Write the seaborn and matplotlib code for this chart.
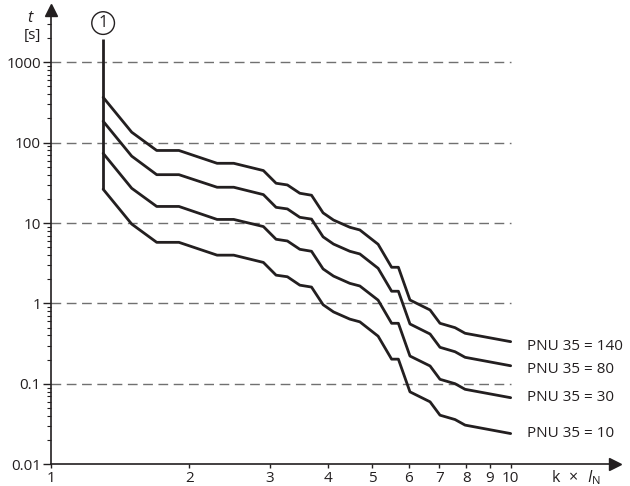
import pandas as pd
import matplotlib.pyplot as plt
import seaborn as sns

# tripping characteristic (k x I_N vs t in seconds)
k_factor = [1.3, 1.5, 1.7, 1.9, 2.3, 2.5, 2.9, 3.09, 3.27, 3.48, 3.69, 3.91,
            4.12, 4.47, 4.7, 5.15, 5.51, 5.7, 6.04, 6.68, 7.02, 7.57, 7.96, 10.0]
pnu_140 = [367, 135, 80, 80, 55.4, 55.4, 45, 31.3, 29.8, 23.5, 22.2, 13.4,
           10.9, 8.87, 8.21, 5.45, 2.82, 2.82, 1.105, 0.83, 0.567, 0.50, 0.426, 0.335]
pnu_80 = [185, 68, 40, 40, 27.9, 27.9, 22.6, 15.7, 15.0, 11.8, 11.2, 6.74,
          5.48, 4.46, 4.13, 2.74, 1.42, 1.42, 0.556, 0.417, 0.285, 0.251, 0.214, 0.168]
pnu_30 = [73.8, 27.1, 16.1, 16.1, 11.1, 11.1, 9.05, 6.29, 5.99, 4.72, 4.46, 2.69,
          2.19, 1.78, 1.65, 1.10, 0.567, 0.567, 0.222, 0.167, 0.114, 0.1005, 0.0856, 0.0673]
pnu_10 = [26.4, 9.72, 5.76, 5.76, 3.99, 3.99, 3.24, 2.25, 2.15, 1.69, 1.60, 0.965,
          0.785, 0.639, 0.591, 0.392, 0.203, 0.203, 0.0796, 0.0598, 0.0408, 0.036, 0.0307, 0.0241]
series_names = ["PNU 35 = 140", "PNU 35 = 80", "PNU 35 = 30", "PNU 35 = 10"]
marker_top = 1950  # top of the vertical line at (1)

y_ticks = [0.01, 0.1, 1, 10, 100, 1000]
y_ticklabels = ["0.01", "0.1", "1", "10", "100", "1000"]
x_ticks = [1, 2, 3, 4, 5, 6, 7, 8, 9, 10]
grid_levels = [0.1, 1, 10, 100, 1000]

sns.set_style("white")
plt.rcParams["font.family"] = ["Open Sans", "DejaVu Sans"]
plt.rcParams["mathtext.fontset"] = "custom"
plt.rcParams["mathtext.rm"] = "Open Sans"
plt.rcParams["mathtext.it"] = "Open Sans:italic"

ink = "#231f20"

frames = []
for name, vals in zip(series_names, [pnu_140, pnu_80, pnu_30, pnu_10]):
    frames.append(pd.DataFrame({"k": k_factor, "t": vals, "curve": name}))
df = pd.concat(frames, ignore_index=True)

fig = plt.figure(figsize=(6.3, 4.86), dpi=100)
ax = fig.add_axes([0.0805, 0.0447, 0.8957, 0.9347])
ax.set_xscale("log")
ax.set_yscale("log")
ax.set_xlim(1, 16.86)
ax.set_ylim(0.01, 4468)

ax.hlines(grid_levels, 1, 10, colors="#707070", linewidth=1.0,
          linestyles=(0, (7, 4)), zorder=1)

sns.lineplot(data=df, x="k", y="t", hue="curve", palette=[ink] * 4,
             estimator=None, sort=False, linewidth=2.0, legend=False, ax=ax,
             zorder=3)
ax.vlines(k_factor[0], pnu_10[0], marker_top, colors=ink, linewidth=2.0, zorder=3)
ax.set_xlabel("")
ax.set_ylabel("")

label_dy = [-3.5, -3, 0, 0]
for name, vals, dy in zip(series_names, [pnu_140, pnu_80, pnu_30, pnu_10], label_dy):
    ax.annotate(name, xy=(k_factor[-1], vals[-1]), xytext=(11.5, dy),
                textcoords="offset points", va="center", ha="left",
                fontsize=11, color=ink)

ax.annotate("1", xy=(k_factor[0], 1), xycoords=("data", "axes fraction"),
            xytext=(0, -9.4), textcoords="offset points", ha="center", va="center",
            fontsize=12, color=ink,
            bbox=dict(boxstyle="circle,pad=0.2", fc="white", ec=ink, lw=1.0))

# axes with arrow heads
for side in ["top", "right"]:
    ax.spines[side].set_visible(False)
for side in ["left", "bottom"]:
    ax.spines[side].set_color(ink)
    ax.spines[side].set_linewidth(1.2)
ax.plot(1, 0, marker=">", markersize=9, color=ink, transform=ax.transAxes,
        clip_on=False)
ax.plot(0, 1, marker="^", markersize=9, color=ink, transform=ax.transAxes,
        clip_on=False)

ax.set_yticks(y_ticks)
ax.set_yticklabels(y_ticklabels)
ax.set_xticks(x_ticks)
ax.set_xticklabels([str(v) for v in x_ticks])
ax.xaxis.set_minor_locator(plt.NullLocator())
ax.tick_params(axis="y", which="major", direction="out", length=6, width=1.0,
               color=ink, labelsize=11, pad=1, left=True)
ax.tick_params(axis="y", which="minor", direction="out", length=3, width=0.8,
               color=ink, left=True)
ax.tick_params(axis="x", which="major", direction="out", length=3, width=1.0,
               color=ink, labelsize=11, pad=1.5, bottom=True)
for lab in ax.get_xticklabels() + ax.get_yticklabels():
    lab.set_color(ink)

fig.text(30 / 630, 1 - 18 / 486, "t", fontstyle="italic", fontsize=11.5,
         ha="center", va="center", color=ink)
fig.text(32 / 630, 1 - 35 / 486, "[s]", fontsize=11, ha="center", va="center",
         color=ink)
fig.text(576 / 630, 1 - 478 / 486, r"k $\,\times\,$ $I_{\mathrm{N}}$", fontsize=11.5,
         ha="center", va="center", color=ink)

fig.savefig("out.png", dpi=100)
